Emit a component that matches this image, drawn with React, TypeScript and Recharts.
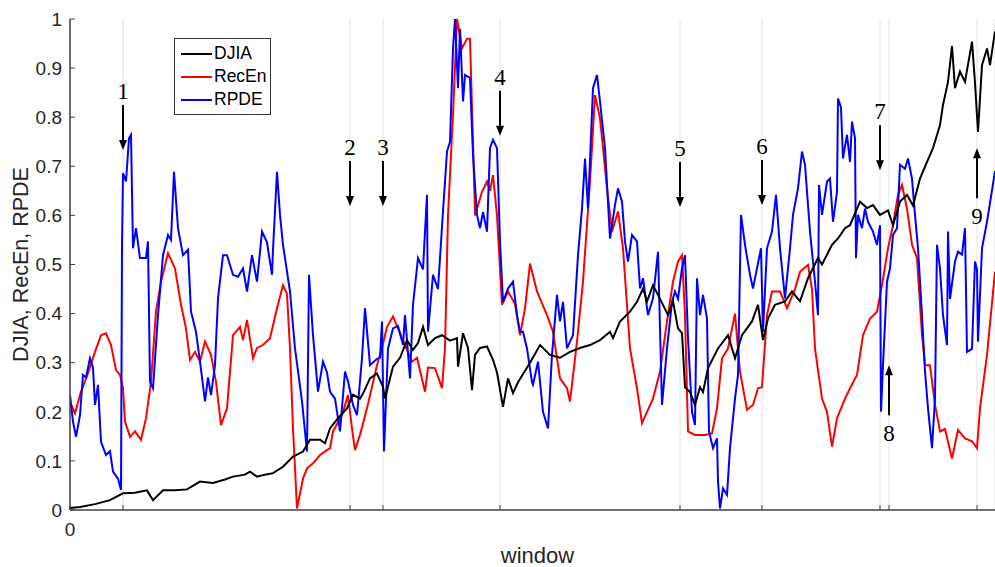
import React from 'react';
import { LineChart, Line, XAxis, YAxis, CartesianGrid, ReferenceDot, Legend, Label } from 'recharts';

// [window, value]
const DJIA: [number, number][] = [
  [0,0.004],[10,0.006],[25,0.012],[40,0.02],[53,0.034],[65,0.035],[77,0.04],[83,0.02],[93,0.04],[105,0.04],[117,0.042],[130,0.058],[143,0.055],[155,0.062],[163,0.068],[175,0.072],[180,0.078],[187,0.068],[195,0.072],[203,0.075],[213,0.088],[223,0.109],[233,0.119],[240,0.143],[250,0.143],[255,0.136],[260,0.166],[268,0.187],[277,0.207],[283,0.235],[290,0.227],[293,0.237],[300,0.268],[307,0.278],[313,0.251],[315,0.227],[323,0.292],[330,0.31],[337,0.346],[343,0.326],[348,0.34],[353,0.373],[358,0.336],[365,0.35],[372,0.356],[380,0.345],[387,0.35],[388,0.292],[393,0.36],[398,0.33],[402,0.244],[405,0.316],[410,0.33],[417,0.333],[423,0.306],[427,0.28],[433,0.21],[438,0.268],[443,0.238],[448,0.26],[454,0.28],[460,0.3],[470,0.336],[480,0.316],[490,0.31],[500,0.322],[510,0.33],[520,0.336],[530,0.346],[540,0.363],[543,0.35],[550,0.384],[560,0.404],[567,0.424],[573,0.451],[577,0.425],[583,0.458],[590,0.43],[598,0.397],[603,0.425],[608,0.37],[612,0.36],[615,0.25],[620,0.24],[625,0.214],[630,0.25],[633,0.24],[638,0.289],[648,0.329],[658,0.356],[665,0.309],[672,0.356],[682,0.384],[688,0.418],[693,0.346],[698,0.39],[705,0.418],[715,0.425],[722,0.445],[730,0.425],[738,0.472],[748,0.513],[752,0.5],[762,0.54],[768,0.553],[775,0.574],[780,0.58],[790,0.628],[797,0.615],[803,0.621],[810,0.601],[818,0.61],[823,0.58],[830,0.628],[837,0.642],[843,0.62],[850,0.675],[857,0.709],[863,0.737],[870,0.784],[873,0.825],[878,0.872],[882,0.945],[885,0.859],[890,0.893],[895,0.872],[902,0.954],[905,0.87],[908,0.77],[912,0.906],[917,0.94],[920,0.906],[925,0.975]
];

const RECEN: [number, number][] = [
  [0,0.22],[5,0.197],[11,0.241],[18,0.278],[25,0.322],[31,0.356],[36,0.36],[41,0.336],[46,0.285],[50,0.275],[53,0.248],[55,0.18],[60,0.149],[65,0.16],[71,0.143],[76,0.187],[81,0.261],[86,0.404],[91,0.465],[98,0.523],[105,0.492],[111,0.418],[116,0.37],[120,0.306],[125,0.322],[130,0.302],[135,0.343],[141,0.316],[146,0.261],[151,0.173],[157,0.207],[163,0.356],[170,0.373],[173,0.346],[177,0.387],[183,0.309],[187,0.33],[193,0.336],[200,0.35],[207,0.411],[213,0.458],[217,0.44],[220,0.329],[223,0.166],[227,0.003],[233,0.064],[237,0.085],[243,0.095],[250,0.112],[260,0.126],[263,0.16],[272,0.193],[278,0.234],[282,0.166],[285,0.122],[290,0.153],[297,0.207],[307,0.295],[312,0.33],[317,0.373],[323,0.394],[328,0.37],[335,0.336],[342,0.302],[347,0.31],[355,0.241],[358,0.29],[365,0.289],[372,0.248],[375,0.33],[378,0.6],[383,0.805],[387,1.0],[392,0.94],[397,0.96],[400,0.96],[403,0.75],[405,0.6],[412,0.648],[417,0.669],[420,0.65],[423,0.682],[427,0.6],[432,0.418],[438,0.445],[445,0.42],[450,0.356],[455,0.41],[460,0.502],[467,0.445],[477,0.397],[483,0.363],[490,0.268],[497,0.248],[500,0.221],[507,0.343],[513,0.465],[520,0.669],[525,0.845],[530,0.798],[537,0.655],[542,0.567],[548,0.608],[553,0.533],[560,0.329],[567,0.248],[572,0.177],[577,0.2],[583,0.227],[590,0.282],[597,0.384],[603,0.465],[608,0.506],[612,0.519],[615,0.397],[618,0.16],[625,0.153],[635,0.153],[642,0.156],[647,0.207],[652,0.309],[658,0.329],[665,0.4],[670,0.282],[677,0.204],[683,0.214],[688,0.248],[692,0.25],[697,0.397],[702,0.445],[710,0.445],[717,0.411],[725,0.45],[730,0.485],[738,0.499],[742,0.45],[745,0.329],[752,0.227],[757,0.2],[762,0.129],[767,0.187],[775,0.227],[780,0.248],[787,0.275],[793,0.356],[800,0.39],[807,0.404],[812,0.458],[818,0.533],[823,0.58],[828,0.642],[832,0.662],[837,0.614],[842,0.54],[847,0.513],[852,0.356],[855,0.295],[860,0.295],[865,0.214],[870,0.16],[875,0.165],[882,0.105],[888,0.163],[895,0.146],[902,0.14],[907,0.126],[910,0.207],[917,0.316],[925,0.485]
];

const RPDE: [number, number][] = [
  [0,0.234],[3,0.18],[6,0.149],[10,0.193],[13,0.275],[16,0.27],[20,0.309],[23,0.29],[25,0.214],[28,0.255],[31,0.139],[36,0.112],[40,0.12],[43,0.078],[48,0.064],[51,0.041],[52,0.54],[53,0.686],[56,0.669],[59,0.757],[61,0.764],[63,0.533],[66,0.574],[70,0.513],[76,0.513],[78,0.547],[80,0.261],[83,0.248],[88,0.397],[93,0.519],[98,0.56],[101,0.55],[104,0.689],[108,0.574],[113,0.519],[118,0.53],[121,0.404],[126,0.363],[130,0.302],[135,0.221],[138,0.27],[141,0.234],[145,0.295],[148,0.431],[153,0.519],[157,0.519],[163,0.479],[168,0.475],[173,0.492],[177,0.445],[182,0.519],[187,0.465],[192,0.567],[197,0.545],[202,0.479],[203,0.53],[207,0.689],[210,0.601],[213,0.54],[220,0.445],[225,0.329],[232,0.221],[237,0.119],[239,0.479],[243,0.356],[248,0.241],[253,0.302],[257,0.28],[260,0.241],[265,0.227],[270,0.16],[275,0.282],[278,0.262],[283,0.214],[287,0.193],[292,0.309],[295,0.411],[300,0.295],[307,0.308],[310,0.31],[312,0.384],[314,0.119],[318,0.329],[323,0.37],[328,0.375],[333,0.336],[335,0.397],[340,0.268],[343,0.418],[348,0.513],[353,0.49],[357,0.642],[358,0.363],[363,0.479],[368,0.45],[373,0.608],[377,0.73],[380,0.75],[383,0.94],[385,1.0],[388,0.859],[390,0.98],[393,0.832],[395,0.886],[400,0.88],[403,0.723],[407,0.601],[410,0.574],[413,0.607],[417,0.567],[420,0.737],[423,0.754],[427,0.737],[430,0.547],[433,0.424],[438,0.451],[443,0.465],[447,0.397],[450,0.363],[453,0.363],[457,0.329],[462,0.26],[463,0.255],[468,0.302],[473,0.2],[478,0.166],[482,0.316],[487,0.438],[490,0.384],[493,0.424],[497,0.329],[500,0.343],[503,0.356],[508,0.519],[512,0.614],[515,0.716],[518,0.614],[523,0.859],[527,0.886],[530,0.832],[535,0.737],[540,0.553],[545,0.621],[548,0.655],[552,0.628],[555,0.547],[558,0.506],[562,0.56],[567,0.547],[570,0.451],[573,0.472],[578,0.397],[583,0.431],[588,0.526],[592,0.214],[597,0.329],[602,0.424],[605,0.445],[608,0.43],[612,0.492],[615,0.519],[618,0.35],[622,0.2],[625,0.173],[627,0.472],[630,0.397],[633,0.438],[637,0.39],[639,0.16],[643,0.126],[647,0.146],[648,0.058],[650,0.003],[653,0.044],[657,0.031],[660,0.126],[665,0.227],[668,0.275],[671,0.601],[675,0.54],[680,0.479],[683,0.451],[687,0.492],[691,0.533],[693,0.363],[697,0.533],[702,0.567],[706,0.642],[710,0.533],[715,0.431],[720,0.533],[723,0.601],[728,0.655],[732,0.73],[735,0.703],[740,0.567],[745,0.465],[748,0.397],[749,0.662],[752,0.601],[757,0.669],[760,0.675],[763,0.587],[767,0.648],[768,0.838],[771,0.82],[773,0.716],[777,0.764],[780,0.709],[782,0.791],[785,0.757],[786,0.513],[788,0.601],[792,0.574],[795,0.614],[798,0.587],[803,0.567],[807,0.54],[810,0.58],[811,0.2],[813,0.295],[817,0.465],[820,0.492],[823,0.56],[827,0.574],[830,0.703],[835,0.695],[838,0.716],[842,0.675],[845,0.601],[848,0.533],[852,0.397],[855,0.282],[858,0.207],[862,0.126],[865,0.227],[867,0.54],[870,0.492],[873,0.397],[877,0.336],[878,0.567],[880,0.43],[885,0.506],[888,0.526],[892,0.52],[895,0.574],[897,0.322],[902,0.328],[905,0.506],[907,0.49],[908,0.343],[912,0.533],[917,0.587],[925,0.69]
];

const X_TICKS = [0, 53, 280, 313, 430, 610, 692, 810, 819, 907];
const Y_TICKS = [0, 0.1, 0.2, 0.3, 0.4, 0.5, 0.6, 0.7, 0.8, 0.9, 1];
const Y_LABELS = ['0', '0.1', '0.2', '0.3', '0.4', '0.5', '0.6', '0.7', '0.8', '0.9', '1'];

const EVENT_LABELS = ['1', '2', '3', '4', '5', '6', '7', '8', '9'];
const EVENT_WINDOWS = [53, 280, 313, 430, 610, 692, 810, 819, 907];
const EVENT_TIPS = [0.733, 0.619, 0.619, 0.762, 0.617, 0.621, 0.692, 0.295, 0.737];
const EVENT_DIRS = ['down', 'down', 'down', 'down', 'down', 'down', 'down', 'up', 'up'];

const SERIES_NAMES = ['DJIA', 'RecEn', 'RPDE'];
const SERIES_COLORS = ['#000000', '#ff0000', '#0000ff'];
const SERIES_DATA = [DJIA, RECEN, RPDE];

const SANS = '"Liberation Sans", Arial, Helvetica, sans-serif';
const SERIF = '"Liberation Serif", "Times New Roman", serif';
const AXIS = '#404040';

const toRows = (d: [number, number][]) => d.map(([w, v]) => ({ window: w, value: v }));

const EventMark = (props: any) => {
  const { cx, cy, label, dir } = props;
  if (cx == null || cy == null) return null;
  if (dir === 'down') {
    return (
      <g>
        <text x={cx} y={cy - 51} textAnchor="middle" fontFamily={SERIF} fontSize={23} fill="#000">{label}</text>
        <line x1={cx} x2={cx} y1={cy - 45} y2={cy - 8} stroke="#000" strokeWidth={2} />
        <polygon points={`${cx - 4},${cy - 10} ${cx + 4},${cy - 10} ${cx},${cy}`} fill="#000" />
      </g>
    );
  }
  return (
    <g>
      <polygon points={`${cx - 4},${cy + 10} ${cx + 4},${cy + 10} ${cx},${cy}`} fill="#000" />
      <line x1={cx} x2={cx} y1={cy + 8} y2={cy + 50} stroke="#000" strokeWidth={2} />
      <text x={cx} y={cy + 76} textAnchor="middle" fontFamily={SERIF} fontSize={23} fill="#000">{label}</text>
    </g>
  );
};

const LegendBox = () => (
  <div
    style={{
      border: '1px solid #333',
      background: '#fff',
      width: 95,
      height: 72,
      boxSizing: 'content-box',
      paddingTop: 3,
      fontFamily: SANS,
      fontSize: 17.5,
      color: '#000',
    }}
  >
    {SERIES_NAMES.map((n, i) => (
      <div key={n} style={{ display: 'flex', alignItems: 'center', height: 23 }}>
        <svg width={38} height={10} style={{ flex: 'none' }}>
          <line x1={6} x2={37} y1={5} y2={5} stroke={SERIES_COLORS[i]} strokeWidth={2} />
        </svg>
        <span style={{ marginLeft: 1, lineHeight: '23px' }}>{n}</span>
      </div>
    ))}
  </div>
);

export default function App() {
  const drawOrder = [1, 2, 0];
  return (
    <div style={{ width: 995, height: 567, position: 'relative', background: '#fff' }}>
      <style>{'body{margin:0;background:#fff;}'}</style>
      <LineChart width={995} height={567} margin={{ top: 19, right: 0, bottom: 0, left: 0 }}>
        <CartesianGrid horizontal={false} vertical stroke="#e2e2e2" strokeWidth={1} />
        <XAxis
          dataKey="window"
          type="number"
          domain={[0, 925]}
          allowDataOverflow
          ticks={X_TICKS}
          interval={0}
          height={57}
          tickSize={-5}
          tickMargin={18}
          stroke={AXIS}
          axisLine={{ stroke: AXIS, strokeWidth: 1.5 }}
          tickLine={{ stroke: AXIS }}
          tickFormatter={(v: number) => (v === 0 ? '0' : '')}
          tick={{ fill: '#262626', fontSize: 19, fontFamily: SANS }}
        >
          <Label
            content={(p: any) => {
              const vb = p.viewBox || {};
              return (
                <text x={vb.x + vb.width / 2 + 5} y={vb.y + 53} textAnchor="middle" fontFamily={SANS} fontSize={22} fill="#262626">
                  window
                </text>
              );
            }}
          />
        </XAxis>
        <XAxis
          xAxisId="top"
          orientation="top"
          dataKey="window"
          type="number"
          domain={[0, 925]}
          allowDataOverflow
          ticks={X_TICKS}
          interval={0}
          height={0}
          tickSize={-5}
          tick={false}
          axisLine={{ stroke: AXIS, strokeWidth: 1.5 }}
          tickLine={{ stroke: AXIS }}
        />
        <YAxis
          type="number"
          domain={[0, 1]}
          ticks={Y_TICKS}
          interval={0}
          width={70}
          tickSize={-5}
          tickMargin={13}
          axisLine={{ stroke: AXIS, strokeWidth: 1.5 }}
          tickLine={{ stroke: AXIS }}
          tickFormatter={(v: number) => Y_LABELS[Y_TICKS.indexOf(v)] ?? String(v)}
          tick={{ fill: '#262626', fontSize: 19, fontFamily: SANS }}
        >
          <Label
            content={(p: any) => {
              const vb = p.viewBox || {};
              const x = vb.x + 28;
              const y = vb.y + vb.height / 2;
              return (
                <text x={x} y={y} transform={`rotate(-90, ${x}, ${y})`} textAnchor="middle" fontFamily={SANS} fontSize={21.5} fill="#262626">
                  DJIA, RecEn, RPDE
                </text>
              );
            }}
          />
        </YAxis>
        <Legend
          layout="horizontal"
          verticalAlign="middle"
          align="center"
          content={() => <LegendBox />}
          wrapperStyle={{ position: 'absolute', left: 174, top: 38, width: 'auto', height: 'auto' }}
        />
        {drawOrder.map((i) => (
          <Line
            key={SERIES_NAMES[i]}
            name={SERIES_NAMES[i]}
            data={toRows(SERIES_DATA[i])}
            dataKey="value"
            type="linear"
            stroke={SERIES_COLORS[i]}
            strokeWidth={2}
            dot={false}
            activeDot={false}
            isAnimationActive={false}
          />
        ))}
        {EVENT_LABELS.map((lab, i) => (
          <ReferenceDot
            key={lab}
            x={EVENT_WINDOWS[i]}
            y={EVENT_TIPS[i]}
            r={0}
            ifOverflow="visible"
            shape={(p: any) => <EventMark {...p} label={lab} dir={EVENT_DIRS[i]} />}
          />
        ))}
      </LineChart>
    </div>
  );
}
